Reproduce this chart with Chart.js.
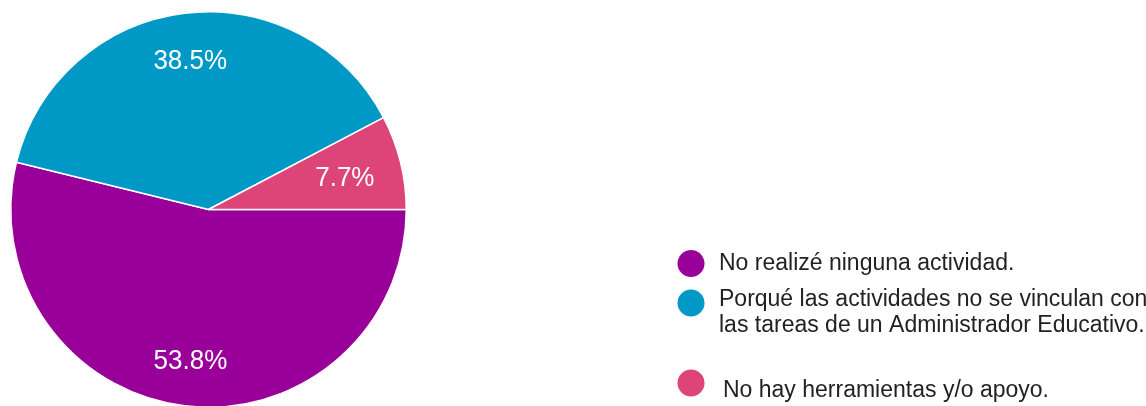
<!DOCTYPE html>
<html>
<head>
<meta charset="utf-8">
<script src="https://cdn.jsdelivr.net/npm/chart.js@4"></script>
<style>
  html, body { margin: 0; padding: 0; background: #fff; overflow: hidden; }
  #wrap { width: 1146px; height: 406px; overflow: hidden; }
</style>
</head>
<body>
<div id="wrap"><canvas id="pie" width="1146" height="420"></canvas></div>
<script>
// respuestas
const categories = [
    'No realizé ninguna actividad.',
    ['Porqué las actividades no se vinculan con', 'las tareas de un Administrador Educativo.'],
    'No hay herramientas y/o apoyo.'
];
const counts = [7, 5, 1];
const colors = ['#990099', '#0099c6', '#dd4477'];

// texto un poco mas alto que ancho, como en la captura original
function tallText(ctx, text, x, y, sy) {
    ctx.save();
    ctx.translate(x, y);
    ctx.scale(1, sy);
    ctx.fillText(text, 0, 0);
    ctx.restore();
}

// etiquetas de porcentaje dentro de cada sector
const sliceLabels = {
    id: 'sliceLabels',
    afterDatasetsDraw: function(chart) {
        const ctx = chart.ctx;
        const meta = chart.getDatasetMeta(0);
        const total = counts.reduce((a, b) => a + b, 0);
        const radial = [0.76, 0.765, 0.71];
        ctx.save();
        ctx.font = '26px "Liberation Sans", Arial, sans-serif';
        ctx.fillStyle = '#ffffff';
        ctx.textAlign = 'center';
        ctx.textBaseline = 'alphabetic';
        meta.data.forEach(function(arc, i) {
            const p = arc.getProps(['x', 'y', 'startAngle', 'endAngle', 'outerRadius'], true);
            const mid = (p.startAngle + p.endAngle) / 2;
            const r = p.outerRadius * radial[i];
            const text = (counts[i] / total * 100).toFixed(1) + '%';
            tallText(ctx, text, p.x + Math.cos(mid) * r, p.y + Math.sin(mid) * r + 10, 1.07);
        });
        ctx.restore();
    }
};

// leyenda a la derecha
const sideLegend = {
    id: 'sideLegend',
    afterDraw: function(chart) {
        const ctx = chart.ctx;
        const dotY = [263.5, 303, 383];
        const baseY = [270, 305.5, 397];
        const textX = [719, 719, 723];
        const lineH = 26;
        ctx.save();
        ctx.font = '23px "Liberation Sans", Arial, sans-serif';
        ctx.textAlign = 'left';
        ctx.textBaseline = 'alphabetic';
        chart.data.labels.forEach(function(label, i) {
            ctx.beginPath();
            ctx.arc(691, dotY[i], 13.5, 0, Math.PI * 2);
            ctx.fillStyle = colors[i];
            ctx.fill();
            const lines = Array.isArray(label) ? label : [label];
            ctx.fillStyle = '#222222';
            lines.forEach(function(line, j) {
                tallText(ctx, line, textX[i], baseY[i] + j * lineH, 1.07);
            });
        });
        ctx.restore();
    }
};

const ctx = document.getElementById('pie').getContext('2d');
new Chart(ctx, {
    type: 'pie',
    data: {
        labels: categories,
        datasets: [{
            data: counts,
            backgroundColor: colors,
            borderColor: '#ffffff',
            borderWidth: 1.5
        }]
    },
    options: {
        responsive: false,
        animation: false,
        rotation: 90,
        layout: { padding: { left: 10, top: 11, right: 739, bottom: 12 } },
        plugins: {
            legend: { display: false },
            tooltip: { enabled: false }
        }
    },
    plugins: [sliceLabels, sideLegend]
});
</script>
</body>
</html>
